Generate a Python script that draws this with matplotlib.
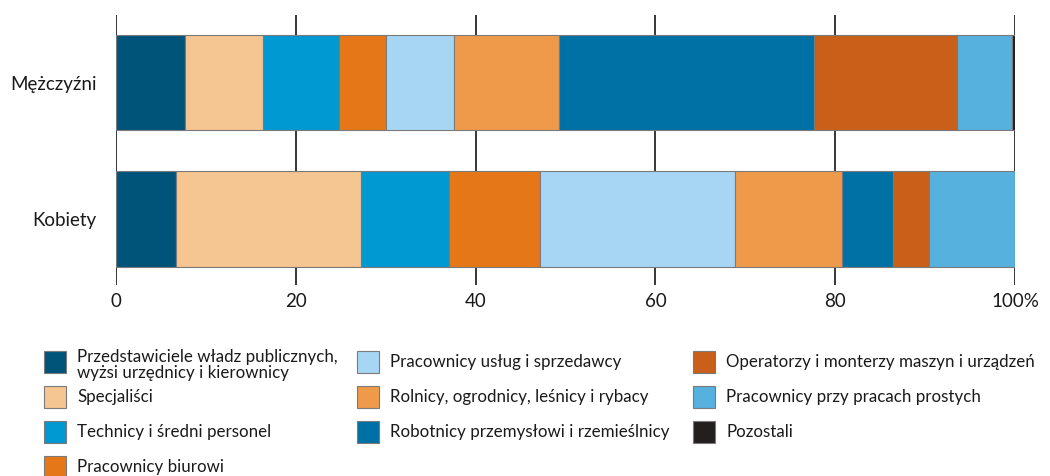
import numpy as np
import matplotlib.pyplot as plt
from matplotlib.patches import Rectangle

plt.rcParams['font.family'] = ['Lato', 'DejaVu Sans']

groups = ['Kobiety', 'Mężczyźni']
categories = [
    'Przedstawiciele władz publicznych,\nwyżsi urzędnicy i kierownicy',
    'Specjaliści',
    'Technicy i średni personel',
    'Pracownicy biurowi',
    'Pracownicy usług i sprzedawcy',
    'Rolnicy, ogrodnicy, leśnicy i rybacy',
    'Robotnicy przemysłowi i rzemieślnicy',
    'Operatorzy i monterzy maszyn i urządzeń',
    'Pracownicy przy pracach prostych',
    'Pozostali',
]
men = [7.7, 8.65, 8.45, 5.2, 7.6, 11.7, 28.3, 15.9, 6.2, 0.3]
women = [6.7, 20.5, 9.8, 10.2, 21.7, 11.9, 5.6, 4.0, 9.6, 0.0]
colors = ['#00547a', '#f5c592', '#0099d1', '#e57718', '#a6d6f4',
          '#ef9a4a', '#0071a5', '#c95f18', '#56b1de', '#231f1e']
ticks = [0, 20, 40, 60, 80, 100]
tick_labels = ['0', '20', '40', '60', '80', '100%']

fig = plt.figure(figsize=(10.5, 4.76), dpi=100)
ax = fig.add_axes([116 / 1050, 1 - 285 / 476, 899 / 1050, 270 / 476])

data = np.array([women, men])
left = np.zeros(2)
for i in range(len(categories)):
    ax.barh([0, 1], data[:, i], left=left, height=0.7, color=colors[i],
            edgecolor='#7a7a7a', linewidth=0.8, zorder=2)
    left += data[:, i]

ax.set_xlim(0, 100)
ax.set_ylim(-0.484, 1.495)
ax.set_xticks(ticks)
ax.set_xticklabels(tick_labels, fontsize=13.5, color='#1a1a1a')
ax.set_yticks([0, 1])
ax.set_yticklabels(groups, fontsize=13.5, color='#1a1a1a')
ax.tick_params(axis='both', length=0)
ax.tick_params(axis='x', pad=6)
ax.tick_params(axis='y', pad=14)
for s in ax.spines.values():
    s.set_visible(False)
for t in ticks:
    ax.axvline(t, color='black', linewidth=1.1, zorder=1)

# legend drawn by hand so rows line up like the original
W, H = 1050, 476
legend_pos = [
    (44, 362), (44, 397), (44, 432), (44, 467),
    (357, 362), (357, 397), (357, 432),
    (693, 362), (693, 397), (693, 432),
]
for i, (x, y) in enumerate(legend_pos):
    fig.patches.append(Rectangle((x / W, 1 - (y + 11) / H), 22 / W, 22 / H,
                                 transform=fig.transFigure, facecolor=colors[i],
                                 edgecolor='#7a7a7a', linewidth=0.8))
    ty = 365 if i == 0 else y
    fig.text((x + 33) / W, 1 - ty / H, categories[i], fontsize=12.2,
             va='center', ha='left', color='#1a1a1a', linespacing=0.95)

fig.savefig('out.png', dpi=100)
